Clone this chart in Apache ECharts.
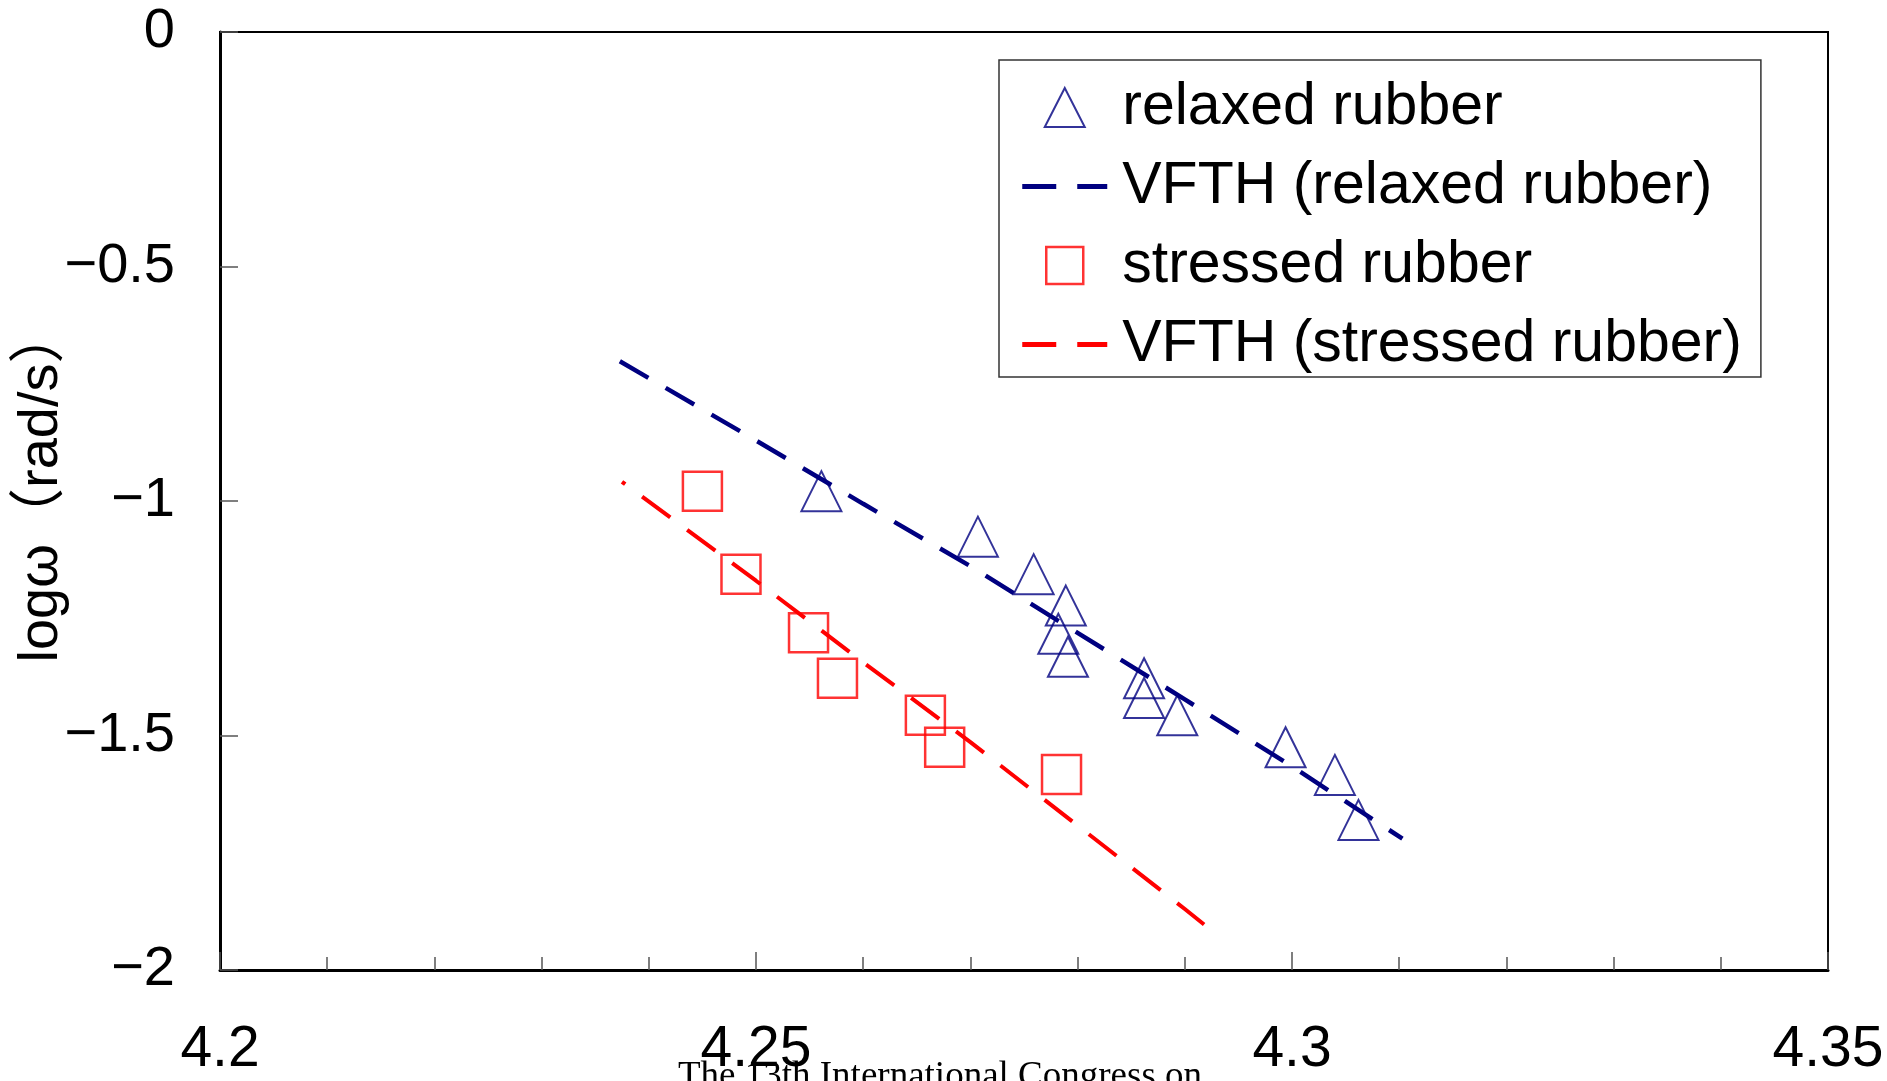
<!DOCTYPE html>
<html><head><meta charset="utf-8">
<script src="https://cdn.jsdelivr.net/npm/echarts@6/dist/echarts.min.js"></script>
<style>html,body{margin:0;padding:0;background:#fff}#c{width:1887px;height:1081px}</style>
</head><body><div id="c"></div>
<script>
// ---- data ----
const xTickValues = [4.2, 4.25, 4.3, 4.35];
const yTickValues = [0, -0.5, -1, -1.5, -2];

const relaxedX = [4.2561, 4.2707, 4.2759, 4.2789, 4.2782, 4.2791, 4.2862, 4.2862, 4.2893, 4.2994, 4.3040, 4.3062];
const relaxedY = [-0.979, -1.076, -1.156, -1.223, -1.283, -1.332, -1.378, -1.420, -1.457, -1.525, -1.584, -1.680];

const stressedX = [4.2450, 4.2486, 4.2549, 4.2576, 4.2658, 4.2676, 4.2785];
const stressedY = [-0.979, -1.156, -1.281, -1.378, -1.457, -1.525, -1.583];

const vfthRelaxedX = [4.2373, 4.25, 4.26, 4.27, 4.28, 4.29, 4.30, 4.3103];
const vfthRelaxedY = [-0.702, -0.871, -1.006, -1.139, -1.281, -1.423, -1.566, -1.720];

const vfthStressedX = [4.2375, 4.25, 4.26, 4.27, 4.28, 4.29, 4.2918];
const vfthStressedY = [-0.959, -1.170, -1.344, -1.514, -1.692, -1.870, -1.903];

const seriesNames = ['relaxed rubber', 'VFTH (relaxed rubber)', 'stressed rubber', 'VFTH (stressed rubber)'];
const yAxisTitle = 'logω（rad/s）';
const footerText = 'The 13th International Congress on';

// ---- chart ----
const SANS = "'Liberation Sans', 'Noto Sans CJK JP', sans-serif";
const zip = (xs, ys) => xs.map((x, i) => [x, ys[i]]);
// legend icons (anchored to the full 85x40 icon box so they are not stretched)
const ANCHORS = ' M0,0 L0,0 M85,40 L85,40';
const DASH_ICON = 'path://M0,17.5 H34 V22.5 H0 Z M55,17.5 H85 V22.5 H55 Z' + ANCHORS;
const TRI_ICON = 'path://M22.5,39.5 L42.5,0.5 L62.5,39.5 Z' + ANCHORS;
const SQR_ICON = 'path://M24,1.5 H61 V38.5 H24 Z' + ANCHORS;

const chart = echarts.init(document.getElementById('c'), null, {renderer: 'canvas'});
chart.setOption({
  animation: false,
  backgroundColor: '#fff',
  grid: {
    left: 220, right: 59, top: 32, bottom: 111,
    show: true, borderColor: '#000', borderWidth: 2,
    outerBoundsMode: 'none'
  },
  xAxis: {
    type: 'value',
    min: xTickValues[0], max: xTickValues[xTickValues.length - 1],
    interval: 0.05,
    axisLine: {show: true, onZero: false, lineStyle: {color: '#000', width: 3}},
    axisTick: {show: true, inside: true, length: 18, lineStyle: {color: '#555', width: 1.5}},
    minorTick: {show: true, splitNumber: 5, length: 13, lineStyle: {color: '#555', width: 1.5}},
    splitLine: {show: false},
    minorSplitLine: {show: false},
    axisLabel: {
      margin: 52, fontSize: 57, fontFamily: SANS, color: '#000',
      formatter: v => String(+(+v).toFixed(2))
    }
  },
  yAxis: {
    type: 'value',
    min: yTickValues[yTickValues.length - 1], max: yTickValues[0],
    interval: 0.5,
    name: yAxisTitle,
    nameLocation: 'middle',
    nameRotate: 90,
    nameGap: 150,
    nameMoveOverlap: false,
    nameTextStyle: {fontSize: 56, fontFamily: SANS, color: '#000', padding: [0, 0, 0, 32]},
    axisLine: {show: true, onZero: false, lineStyle: {color: '#000', width: 3}},
    axisTick: {show: true, inside: true, length: 18, lineStyle: {color: '#555', width: 1.5}},
    splitLine: {show: false},
    axisLabel: {
      margin: 45, fontSize: 56, fontFamily: SANS, color: '#000',
      formatter: v => (+v === 0 ? '0' : '\u2212' + String(Math.abs(+v)))
    }
  },
  legend: {
    orient: 'vertical',
    left: 999, top: 60,
    padding: [18, 19, 3, 22],
    itemWidth: 85, itemHeight: 40, itemGap: 20,
    borderColor: '#333', borderWidth: 1.5, backgroundColor: '#fff',
    textStyle: {fontSize: 59, fontFamily: SANS, color: '#000', padding: [0, 0, 0, 10]},
    data: [
      {name: seriesNames[0], icon: TRI_ICON, itemStyle: {color: 'rgba(0,0,0,0)', borderColor: '#000080', borderWidth: 2}},
      {name: seriesNames[1], icon: DASH_ICON, itemStyle: {color: '#000080', borderWidth: 0}},
      {name: seriesNames[2], icon: SQR_ICON, itemStyle: {color: 'rgba(0,0,0,0)', borderColor: '#ff0000', borderWidth: 2.5}},
      {name: seriesNames[3], icon: DASH_ICON, itemStyle: {color: '#ff0000', borderWidth: 0}}
    ]
  },
  graphic: [{
    type: 'text', left: 678, top: 1059,
    style: {text: footerText, font: "37px 'Liberation Serif', serif", fill: '#000'}
  }],
  series: [
    {
      type: 'scatter', name: seriesNames[0],
      symbol: 'triangle', symbolSize: 40,
      data: zip(relaxedX, relaxedY),
      itemStyle: {color: 'rgba(0,0,0,0)', borderColor: '#000080', borderWidth: 2},
      z: 3
    },
    {
      type: 'line', name: seriesNames[1],
      data: zip(vfthRelaxedX, vfthRelaxedY),
      symbol: 'none', showSymbol: false,
      lineStyle: {color: '#000080', width: 4.5, type: [33, 20]},
      itemStyle: {color: '#000080'},
      z: 2
    },
    {
      type: 'scatter', name: seriesNames[2],
      symbol: 'rect', symbolSize: 39,
      data: zip(stressedX, stressedY),
      itemStyle: {color: 'rgba(0,0,0,0)', borderColor: '#ff0000', borderWidth: 2.5},
      z: 3
    },
    {
      type: 'line', name: seriesNames[3],
      data: zip(vfthStressedX, vfthStressedY),
      symbol: 'none', showSymbol: false,
      lineStyle: {color: '#ff0000', width: 4, type: [35, 21], dashOffset: 31},
      itemStyle: {color: '#ff0000'},
      z: 2
    }
  ]
});
</script>
</body></html>
